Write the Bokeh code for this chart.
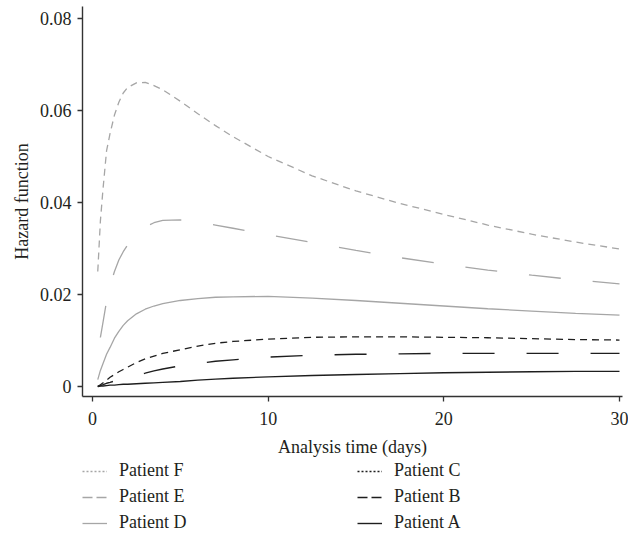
from bokeh.plotting import figure
from bokeh.models import Legend, LegendItem, FixedTicker, Range1d
from bokeh.layouts import column
from bokeh.embed import file_html
from bokeh.resources import INLINE

# ---- data ----
time_days = [0.3, 0.45, 0.6, 0.8, 1.0, 1.25, 1.5, 1.75, 2, 2.5, 3, 3.5, 4, 5, 6, 7, 8,
             10, 12.5, 15, 17.5, 20, 22.5, 25, 27.5, 30]
patient_f = [0.025, 0.036, 0.043, 0.0512, 0.055, 0.059, 0.0618, 0.0638, 0.065, 0.066,
             0.0661, 0.0654, 0.0645, 0.062, 0.0593, 0.0567, 0.0543, 0.0500, 0.0458,
             0.0425, 0.0398, 0.0374, 0.0351, 0.0331, 0.0314, 0.0299]
patient_e = [0.007, 0.0107, 0.014, 0.0185, 0.022, 0.025, 0.0275, 0.0293, 0.0308, 0.033,
             0.0347, 0.0356, 0.0361, 0.0362, 0.0357, 0.0351, 0.0344, 0.033, 0.0313,
             0.0296, 0.028, 0.0266, 0.0253, 0.0242, 0.0232, 0.0223]
patient_d = [0.0015, 0.0035, 0.005, 0.007, 0.0085, 0.0105, 0.012, 0.0133, 0.0143, 0.0158,
             0.0168, 0.0175, 0.018, 0.0187, 0.0191, 0.0194, 0.0195, 0.0196, 0.0192,
             0.0187, 0.0181, 0.0175, 0.0169, 0.0164, 0.0159, 0.0155]
patient_c = [0, 0.0004, 0.0008, 0.0014, 0.002, 0.0026, 0.0032, 0.0037, 0.0042, 0.0052,
             0.006, 0.0066, 0.0072, 0.008, 0.0088, 0.0094, 0.0098, 0.0103, 0.0107,
             0.0108, 0.0108, 0.0107, 0.0106, 0.0104, 0.0102, 0.0101]
patient_b = [0, 0.0002, 0.0004, 0.0007, 0.0009, 0.0012, 0.0015, 0.0018, 0.002, 0.0025,
             0.0029, 0.0034, 0.0038, 0.0045, 0.005, 0.0055, 0.0058, 0.0064, 0.0068,
             0.007, 0.0071, 0.0072, 0.0072, 0.0072, 0.0072, 0.0072]
patient_a = [0, 0.0001, 0.0001, 0.0002, 0.0003, 0.0003, 0.0004, 0.0005, 0.0005, 0.0006,
             0.0007, 0.0008, 0.0009, 0.0011, 0.0014, 0.0016, 0.0018, 0.0021, 0.0024,
             0.0026, 0.0028, 0.003, 0.0031, 0.0032, 0.0033, 0.0033]

series_names = ["Patient F", "Patient E", "Patient D", "Patient C", "Patient B", "Patient A"]
series_values = [patient_f, patient_e, patient_d, patient_c, patient_b, patient_a]
# legend grid order (row by row): F C / E B / D A
legend_order = ["Patient F", "Patient C", "Patient E", "Patient B", "Patient D", "Patient A"]

x_ticks = [0, 10, 20, 30]
y_ticks = [0, 0.02, 0.04, 0.06, 0.08]
y_tick_labels = ["0", "0.02", "0.04", "0.06", "0.08"]

# ---- styles ----
GRAY = "#a6a6a6"
DARK = "#1e1e1e"
styles = [
    dict(color=GRAY, dash="7 5", offset=0, legend_dash="2 2", width=1.3),
    dict(color=GRAY, dash="32 32", offset=47, legend_dash="10 4", width=1.3),
    dict(color=GRAY, dash="solid", offset=0, legend_dash="solid", width=1.3),
    dict(color=DARK, dash="7 5", offset=0, legend_dash="2 2", width=1.3),
    dict(color=DARK, dash="32 32", offset=16, legend_dash="10 4", width=1.4),
    dict(color=DARK, dash="solid", offset=0, legend_dash="solid", width=1.4),
]
TEXT = "#231f20"
FONT = "Liberation Serif"
W = 628

p = figure(width=W, height=460, output_backend="svg", toolbar_location=None,
           x_range=Range1d(-0.569, 30.171), y_range=Range1d(-0.00217, 0.0826),
           min_border_left=82, min_border_right=6, min_border_top=6,
           min_border_bottom=64)
p.outline_line_color = None
p.grid.visible = False
p.background_fill_color = "white"
p.border_fill_color = "white"

for name, vals, st in zip(series_names, series_values, styles):
    p.line(time_days, vals, line_color=st["color"], line_dash=st["dash"],
           line_dash_offset=st["offset"], line_width=st["width"])

for ax in (p.xaxis[0], p.yaxis[0]):
    ax.axis_line_color = "#333333"
    ax.axis_line_width = 1.4
    ax.major_tick_line_color = "#333333"
    ax.major_tick_line_width = 1.3
    ax.major_tick_out = 5
    ax.major_tick_in = 0
    ax.minor_tick_line_color = None
    ax.major_label_text_font = FONT
    ax.major_label_text_font_size = "18px"
    ax.major_label_text_color = TEXT
    ax.axis_label_text_font = FONT
    ax.axis_label_text_font_size = "18px"
    ax.axis_label_text_font_style = "normal"
    ax.axis_label_text_color = TEXT

p.xaxis[0].ticker = FixedTicker(ticks=x_ticks)
p.xaxis[0].axis_label = "Analysis time (days)"
p.xaxis[0].major_label_standoff = 10
p.xaxis[0].axis_label_standoff = 9

p.yaxis[0].ticker = FixedTicker(ticks=y_ticks)
p.yaxis[0].major_label_overrides = {t: s for t, s in zip(y_ticks, y_tick_labels)}
p.yaxis[0].axis_label = "Hazard function"
p.yaxis[0].major_label_standoff = 6
p.yaxis[0].axis_label_standoff = 5

# ---- legend, in its own strip below the plot ----
lg = figure(width=W, height=74, output_backend="svg", toolbar_location=None,
            x_range=Range1d(-0.569, 30.171), y_range=Range1d(-0.00217, 0.0826),
            x_axis_type=None, y_axis_type=None,
            min_border_left=82, min_border_right=0, min_border_top=0,
            min_border_bottom=0)
lg.outline_line_color = None
lg.grid.visible = False
lg.background_fill_color = "white"
lg.border_fill_color = "white"

item_map = {}
for name, vals, st in zip(series_names, series_values, styles):
    proxy = lg.line(time_days[:1], vals[:1], line_color=st["color"],
                    line_dash=st["legend_dash"], line_width=st["width"])
    item_map[name] = LegendItem(label=name, renderers=[proxy])
items = [item_map[n] for n in legend_order]

legend = Legend(items=items, location="top_left", orientation="horizontal", ncols=2,
                glyph_width=25, glyph_height=20, label_height=20, label_width=233,
                label_standoff=12, spacing=5, padding=0, margin=0,
                label_text_font=FONT, label_text_font_size="18px",
                label_text_color=TEXT, border_line_color=None,
                background_fill_alpha=0)
lg.add_layout(legend, "center")

layout = column(p, lg, spacing=0)
open("out.html", "w").write(file_html(layout, INLINE))
